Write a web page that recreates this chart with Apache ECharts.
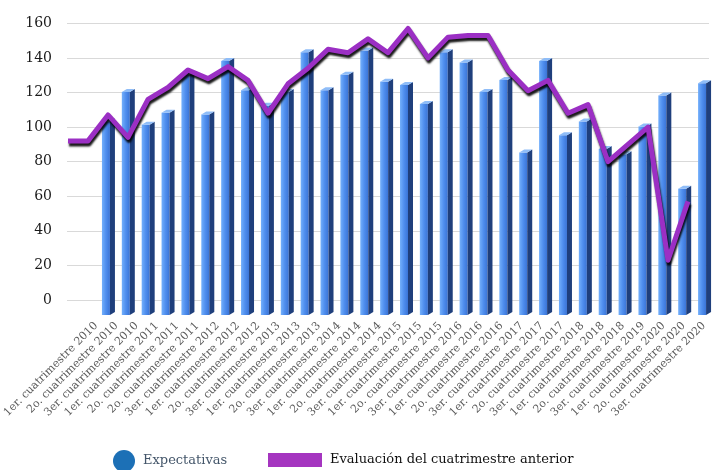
<!DOCTYPE html>
<html>
<head>
<meta charset="utf-8">
<script src="https://cdn.jsdelivr.net/npm/echarts@6/dist/echarts.min.js"></script>
<style>
html,body{margin:0;padding:0;background:#fff;}
#chart{width:714px;height:470px;}
</style>
</head>
<body>
<div id="chart"></div>
<script>
const categories = [
  '1er. cuatrimestre 2010','2o. cuatrimestre 2010','3er. cuatrimestre 2010',
  '1er. cuatrimestre 2011','2o. cuatrimestre 2011','2o. cuatrimestre 2011',
  '3er. cuatrimestre 2012','1er. cuatrimestre 2012','2o. cuatrimestre 2012',
  '3er. cuatrimestre 2013','1er. cuatrimestre 2013','2o. cuatrimestre 2013',
  '3er. cuatrimestre 2014','1er. cuatrimestre 2014','2o. cuatrimestre 2014',
  '3er. cuatrimestre 2015','1er. cuatrimestre 2015','2o. cuatrimestre 2015',
  '3er. cuatrimestre 2016','1er. cuatrimestre 2016','2o. cuatrimestre 2016',
  '3er. cuatrimestre 2017','1er. cuatrimestre 2017','2o. cuatrimestre 2017',
  '3er. cuatrimestre 2018','1er. cuatrimestre 2018','2o. cuatrimestre 2018',
  '3er. cuatrimestre 2019','1er. cuatrimestre 2020','2o. cuatrimestre 2020',
  '3er. cuatrimestre 2020'
];
const expectativas = [105,122,103,110,132,109,140,123,114,122,145,123,132,146,128,126,115,145,139,122,129,87,140,97,105,89,86,102,120,66,127];
// line vertices as drawn (3D ribbon sits one row back, starting left of the first column)
const evaluacion = [92,92,107,94,116,123,133,128,135,127,108,125,134,145,143,151,143,157,140,152,153,153,133,121,127,108,113,80,90,100,23,57];
const yMin = 0, yMax = 160, yStep = 20;
const seriesNames = ['Expectativas','Evaluación del cuatrimestre anterior'];

const chart = echarts.init(document.getElementById('chart'), null, {renderer:'canvas'});
const font = 'DejaVu Serif';
const lineSlots = evaluacion.map((_, i) => String(i));
const yHidden = (gi) => ({type:'value', gridIndex:gi, min:yMin, max:yMax, interval:yStep, show:false});

const frontGrad = new echarts.graphic.LinearGradient(0,0,1,0,[
  {offset:0,color:'#74b0fb'},{offset:0.5,color:'#4f8eee'},{offset:1,color:'#3a74d6'}
]);

const option = {
  animation:false,
  backgroundColor:'#ffffff',
  grid:[
    {left:67, right:5, top:23.3, bottom:170},
    {left:98, width:620, top:23.3, bottom:170},
    {left:86, width:642, top:23.3, bottom:170},
    {left:58, width:640, top:23.3, bottom:170}
  ],
  xAxis:[
    {type:'value', gridIndex:0, min:0, max:1, show:false},
    {type:'category', gridIndex:1, data:categories, show:false},
    {type:'category', gridIndex:2, data:categories, axisLine:{show:false}, axisTick:{show:false},
     axisLabel:{interval:0, rotate:45, margin:24, fontFamily:font, fontSize:11, color:'#5a5a5a'}},
    {type:'category', gridIndex:3, data:lineSlots, show:false}
  ],
  yAxis:[
    {type:'value', gridIndex:0, min:yMin, max:yMax, interval:yStep,
     axisLine:{show:false}, axisTick:{show:false},
     axisLabel:{margin:15, fontFamily:font, fontSize:14, color:'#1a1a1a'},
     splitLine:{lineStyle:{color:'#d9d9d9', width:1}}},
    yHidden(1), yHidden(2), yHidden(3)
  ],
  legend:[
    {left:108, top:445, itemWidth:22, itemHeight:22,
     data:[{name:seriesNames[0], icon:'circle', itemStyle:{color:'#1c70b6'}}],
     textStyle:{fontFamily:font, fontSize:13, color:'#44566a', padding:[0,0,0,3]}},
    {left:263, top:448, itemWidth:54, itemHeight:14,
     data:[{name:seriesNames[1], icon:'rect', itemStyle:{color:'#a535c0'}}],
     textStyle:{fontFamily:font, fontSize:13, color:'#111111', padding:[0,0,0,3]}}
  ],
  series:[
    {
      name:seriesNames[0], type:'custom', xAxisIndex:1, yAxisIndex:1, clip:false, z:2,
      itemStyle:{color:'#1c70b6'},
      data: expectativas.map((v,i)=>[i,v]),
      renderItem:function(params, api){
        const i = api.value(0), v = api.value(1);
        const top = api.coord([i, v]);
        const base = api.coord([i, 0]);
        const cx = top[0], yT = top[1], yB = base[1] + 15;
        const d = 3;
        return {type:'group', children:[
          {type:'polygon', shape:{points:[[cx-6,yT+d],[cx+2,yT+d],[cx+2,yB],[cx-6,yB]]}, style:{fill:frontGrad}},
          {type:'polygon', shape:{points:[[cx+2,yT+d],[cx+7,yT],[cx+7,yB-d],[cx+2,yB]]}, style:{fill:'#1f3f7c'}},
          {type:'polygon', shape:{points:[[cx-6,yT+d],[cx-1,yT],[cx+7,yT],[cx+2,yT+d]]}, style:{fill:'#8fbdf8'}}
        ]};
      }
    },
    {
      name:seriesNames[1], type:'line', xAxisIndex:3, yAxisIndex:3, z:3,
      data:evaluacion, symbol:'none', smooth:false,
      itemStyle:{color:'#a535c0'},
      lineStyle:{color:'#9b2fc4', width:5, shadowColor:'rgba(0,0,0,0.9)', shadowBlur:2, shadowOffsetY:3, shadowOffsetX:1, join:'round'}
    }
  ]
};
chart.setOption(option);
</script>
</body>
</html>
